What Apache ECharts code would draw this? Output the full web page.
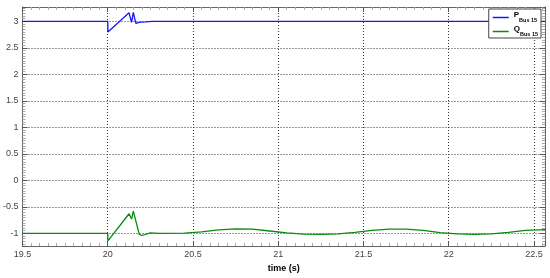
<!DOCTYPE html>
<html>
<head>
<meta charset="utf-8">
<script src="https://cdn.jsdelivr.net/npm/echarts@6/dist/echarts.min.js"></script>
<style>
  html, body { margin: 0; padding: 0; background: #fff; }
  #chart { width: 550px; height: 278px; }
</style>
</head>
<body>
<div id="chart"></div>
<script>
// P at bus 15
const pTime = [19.5, 20.0, 20.001, 20.125, 20.14, 20.15, 20.165, 20.19, 20.22, 20.26, 22.565];
const pVal = [3.0, 3.0, 2.80, 3.16, 2.98, 3.17, 2.96, 2.985, 2.99, 3.0, 3.0];

// Q at bus 15
const qTime = [19.5, 20.0, 20.001, 20.125, 20.14, 20.15, 20.185, 20.2, 20.25, 20.3, 20.45, 20.55, 20.65, 20.75,
  20.85, 20.95, 21.05, 21.15, 21.25, 21.35, 21.45, 21.55, 21.65, 21.75, 21.85, 21.95, 22.05, 22.15, 22.25,
  22.35, 22.45, 22.565];
const qVal = [-1.0, -1.0, -1.14, -0.63, -0.73, -0.58, -1.02, -1.04, -0.99, -1.0, -0.995, -0.97, -0.935, -0.915,
  -0.92, -0.955, -0.99, -1.015, -1.02, -1.01, -0.98, -0.945, -0.92, -0.92, -0.945, -0.985, -1.01, -1.02, -1.01,
  -0.98, -0.945, -0.93];

const xMin = 19.5, xMax = 22.565;
const yMin = -1.24, yMax = 3.27;

const zip = (a, b) => a.map((v, i) => [v, b[i]]);

const gridDash = { color: '#333', type: [1, 2], width: 1 };
const frameLine = { show: true, onZero: false, lineStyle: { color: '#666', width: 1 } };

const chart = echarts.init(document.getElementById('chart'));
chart.setOption({
  animation: false,
  backgroundColor: '#fff',
  grid: { left: 22, right: 5, top: 7, bottom: 21 },
  legend: {
    right: 9, top: 9,
    orient: 'vertical',
    backgroundColor: '#fff',
    borderColor: '#444', borderWidth: 1,
    padding: [2, 3, 1, 4],
    itemGap: 2,
    itemWidth: 16, itemHeight: 1.5,
    icon: 'rect',
    data: ['P', 'Q'],
    formatter: name => '{m|' + name + '}{s|Bus 15}',
    textStyle: {
      color: '#000',
      rich: {
        m: { fontSize: 8, fontWeight: 'bold', fontFamily: 'Liberation Sans', verticalAlign: 'top', lineHeight: 13 },
        s: { fontSize: 5.5, fontWeight: 'bold', fontFamily: 'Liberation Sans', padding: [5, 0, 0, 0], lineHeight: 13 }
      }
    }
  },
  xAxis: [{
    type: 'value', min: xMin, max: xMax, interval: 0.5,
    name: 'time (s)', nameLocation: 'middle', nameGap: 15,
    nameTextStyle: { fontSize: 9, fontWeight: 'bold', color: '#000', fontFamily: 'Liberation Sans' },
    axisLine: frameLine,
    axisTick: { show: true, inside: true, length: 5, lineStyle: { color: '#555' } },
    minorTick: { show: true, splitNumber: 10, length: 3, lineStyle: { color: '#aaa' } },
    axisLabel: { fontSize: 9, color: '#444', margin: 4, fontFamily: 'Liberation Sans', showMaxLabel: false },
    splitLine: { show: true, lineStyle: gridDash }
  }, {
    type: 'value', min: xMin, max: xMax, interval: 0.5, position: 'top',
    axisLine: frameLine,
    axisTick: { show: true, inside: true, length: 5, lineStyle: { color: '#555' } },
    minorTick: { show: true, splitNumber: 10, length: 3, lineStyle: { color: '#aaa' } },
    axisLabel: { show: false },
    splitLine: { show: false }
  }],
  yAxis: [{
    type: 'value', min: yMin, max: yMax, splitNumber: 9,
    axisLine: frameLine,
    axisTick: { show: true, inside: true, length: 5, lineStyle: { color: '#555' } },
    minorTick: { show: true, splitNumber: 10, length: 3, lineStyle: { color: '#aaa' } },
    axisLabel: { fontSize: 9, color: '#444', margin: 4, fontFamily: 'Liberation Sans', showMinLabel: false, showMaxLabel: false },
    splitLine: { show: true, lineStyle: gridDash }
  }, {
    type: 'value', min: yMin, max: yMax, splitNumber: 9, position: 'right',
    axisLine: frameLine,
    axisTick: { show: true, inside: true, length: 5, lineStyle: { color: '#555' } },
    minorTick: { show: true, splitNumber: 10, length: 3, lineStyle: { color: '#aaa' } },
    axisLabel: { show: false },
    splitLine: { show: false }
  }],
  series: [{
    name: 'P', type: 'line', showSymbol: false, symbol: 'none',
    data: zip(pTime, pVal),
    lineStyle: { color: '#1515ff', width: 1.3 },
    itemStyle: { color: '#1515ff' }
  }, {
    name: 'Q', type: 'line', showSymbol: false, symbol: 'none',
    data: zip(qTime, qVal),
    lineStyle: { color: '#0a8a0a', width: 1.3 },
    itemStyle: { color: '#0a8a0a' }
  }]
});
</script>
</body>
</html>
